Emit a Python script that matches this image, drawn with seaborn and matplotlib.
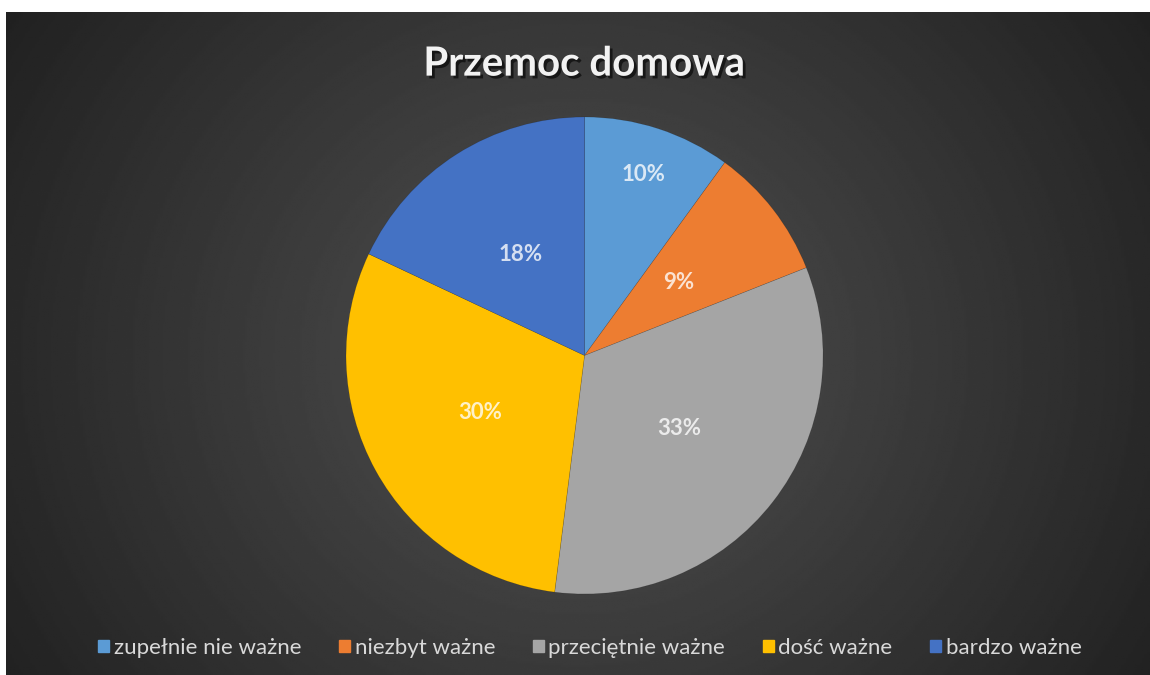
import numpy as np
import matplotlib
matplotlib.use("Agg")
import matplotlib.pyplot as plt
import matplotlib.patheffects as pe
import seaborn as sns

categories = ["zupełnie nie ważne", "niezbyt ważne", "przeciętnie ważne", "dość ważne", "bardzo ważne"]
shares = [10, 9, 33, 30, 18]
colors = ["#5B9BD5", "#ED7D31", "#A5A5A5", "#FFC000", "#4472C4"]
title = "Przemoc domowa"

sns.set_style("dark")
plt.rcParams["font.family"] = ["Lato", "DejaVu Sans"]
palette = sns.color_palette(colors)

fig = plt.figure(figsize=(11.5, 6.75), dpi=100, facecolor="white")

# dark radial background
bg = fig.add_axes([6 / 1150, 0, 1 - 6 / 1150, 1 - 12 / 675])
yy, xx = np.mgrid[0:1:300j, 0:1:500j]
d = np.sqrt(((xx - 0.5) * 1.6) ** 2 + ((yy - 0.52) * 1.0) ** 2)
shade = 0.32 - 0.19 * np.clip(d / 0.95, 0, 1)
bg.imshow(shade, cmap="gray", vmin=0, vmax=1, aspect="auto", extent=[0, 1, 0, 1])
bg.set_axis_off()

ax = fig.add_axes([0.3009, 0.12, 0.4148, 0.7067])
wedges, texts, autotexts = ax.pie(
    shares, colors=palette, startangle=90, counterclock=False,
    autopct="%1.0f%%", pctdistance=0.5,
    wedgeprops=dict(linewidth=0.4, edgecolor="#00000030"),
    textprops=dict(color="white", alpha=0.78, fontsize=16, fontweight="bold"),
)
# first label sits further out (best fit)
w = wedges[0]
mid = np.deg2rad((w.theta1 + w.theta2) / 2)
autotexts[0].set_position((0.8 * np.cos(mid), 0.8 * np.sin(mid)))
ax.set_xlim(-1, 1)
ax.set_ylim(-1, 1)
ax.set_aspect("equal")
ax.set_axis_off()

fig.text(0.508, 0.905, title, ha="center", va="center", fontsize=29,
         fontweight="bold", color="#f2f2f2",
         path_effects=[pe.withSimplePatchShadow(offset=(2, -2), shadow_rgbFace="black", alpha=0.6)])

handles = [plt.Rectangle((0, 0), 1, 1, color=c) for c in palette]
leg = fig.legend(handles, categories, loc="center", bbox_to_anchor=(0.513, 0.04),
                 ncol=5, frameon=False, fontsize=16, handlelength=0.5, handleheight=0.5,
                 handletextpad=0.2, columnspacing=1.7)
for t in leg.get_texts():
    t.set_color("#d9d9d9")

fig.savefig("out.png", dpi=100, facecolor="white")
